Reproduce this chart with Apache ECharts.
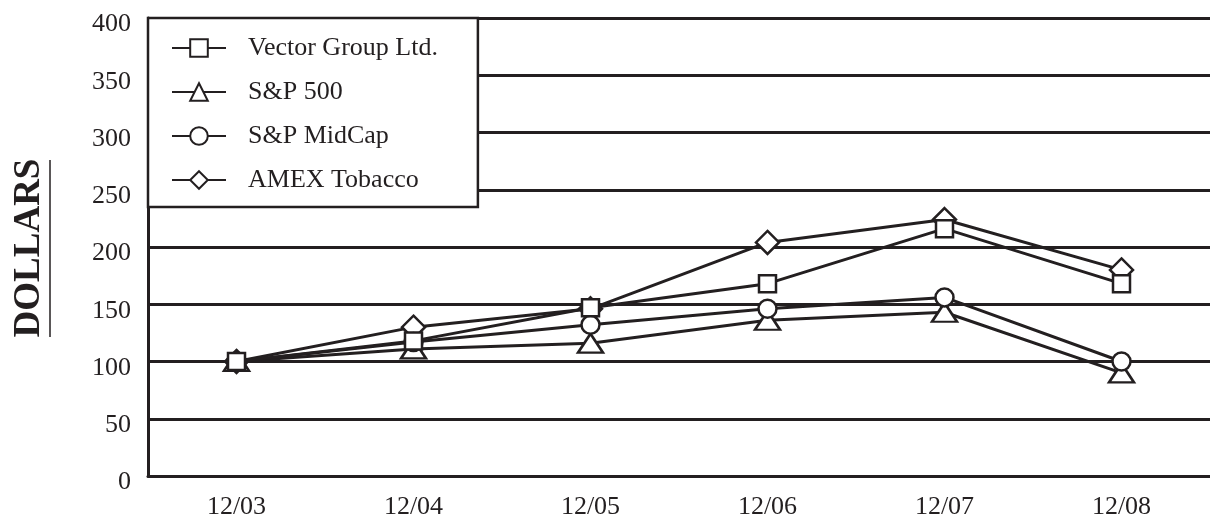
<!DOCTYPE html>
<html>
<head>
<meta charset="utf-8">
<script src="https://cdn.jsdelivr.net/npm/echarts@6/dist/echarts.min.js"></script>
<style>
  html, body { margin: 0; padding: 0; background: #fff; }
  #main { width: 1210px; height: 520px; }
</style>
</head>
<body>
<div id="main"></div>
<script>
var periodos = ['12/03', '12/04', '12/05', '12/06', '12/07', '12/08'];
var vectorGroup = [100, 118, 147, 168, 216, 168];
var sp500 = [100, 111, 116, 136, 143, 90];
var spMidCap = [100, 117, 132, 146, 156, 100];
var amexTobacco = [100, 130, 146, 204, 224, 180];

var negro = '#231f20';
var fuente = '"Liberation Serif", "DejaVu Serif", serif';

var chart = echarts.init(document.getElementById('main'), null, { renderer: 'canvas' });

function serie(nombre, datos, simbolo, tam, z) {
  return {
    name: nombre,
    type: 'line',
    data: datos,
    symbol: simbolo,
    symbolSize: tam,
    showAllSymbol: true,
    z: z,
    lineStyle: { color: negro, width: 3 },
    itemStyle: { color: '#fff', borderColor: negro, borderWidth: 2.5 },
    emphasis: { disabled: true },
    animation: false
  };
}

var option = {
  animation: false,
  textStyle: { fontFamily: fuente },
  grid: { left: 148, top: 18, bottom: 42, right: -11 },
  legend: {
    orient: 'vertical',
    left: 148,
    top: 18,
    padding: [17, 40, 14, 23],
    itemGap: 18,
    itemWidth: 54,
    itemHeight: 22,
    backgroundColor: '#fff',
    borderColor: negro,
    borderWidth: 2.5,
    borderRadius: 0,
    textStyle: { fontFamily: fuente, fontSize: 26, lineHeight: 26, color: negro, padding: [0, 0, 0, 17] },
    data: ['Vector Group Ltd.', 'S&P 500', 'S&P MidCap', 'AMEX Tobacco']
  },
  xAxis: {
    type: 'category',
    data: periodos,
    boundaryGap: true,
    axisLine: { lineStyle: { color: negro, width: 3 } },
    axisTick: { alignWithLabel: true, length: 9, lineStyle: { color: negro, width: 2.5 } },
    axisLabel: { fontFamily: fuente, fontSize: 26, color: negro, margin: 18 },
    splitLine: { show: false }
  },
  yAxis: {
    type: 'value',
    min: 0,
    max: 400,
    interval: 50,
    axisLine: { show: true, lineStyle: { color: negro, width: 3 } },
    axisTick: { show: false },
    axisLabel: { fontFamily: fuente, fontSize: 26, color: negro, margin: 17, verticalAlign: 'top', lineHeight: 13 },
    splitLine: { lineStyle: { color: negro, width: 3 } }
  },
  graphic: [
    {
      type: 'text',
      x: 29,
      y: 248,
      rotation: Math.PI / 2,
      style: {
        text: 'DOLLARS',
        font: 'bold 37px "Liberation Serif", serif',
        fill: negro,
        align: 'center',
        verticalAlign: 'middle'
      }
    },
    {
      type: 'line',
      shape: { x1: 50, y1: 160, x2: 50, y2: 337 },
      style: { stroke: negro, lineWidth: 1.5 }
    }
  ],
  series: [
    serie('Vector Group Ltd.', vectorGroup, 'rect', 17, 5),
    serie('S&P 500', sp500, 'triangle', [25, 19], 3),
    serie('S&P MidCap', spMidCap, 'circle', 18, 4),
    serie('AMEX Tobacco', amexTobacco, 'diamond', 23, 2)
  ]
};

chart.setOption(option);
</script>
</body>
</html>
